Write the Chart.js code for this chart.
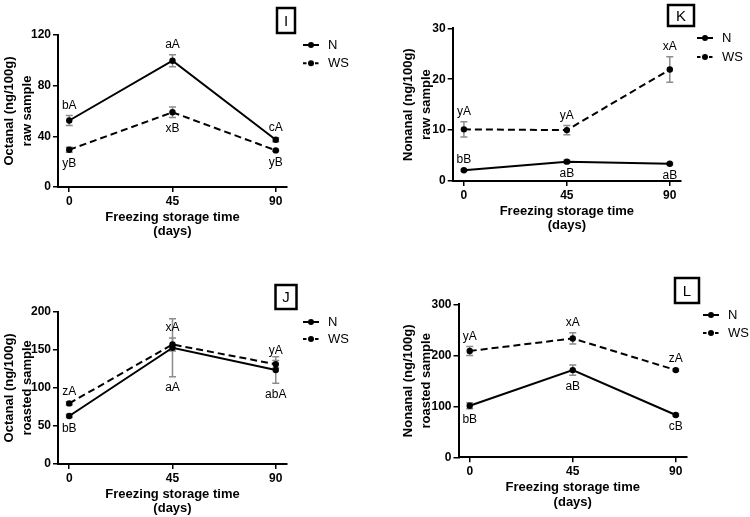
<!DOCTYPE html>
<html>
<head>
<meta charset="utf-8">
<script src="https://cdn.jsdelivr.net/npm/chart.js"></script>
<style>
  body { margin: 0; background: #fff; }
  #wrap { position: relative; width: 750px; height: 517px; }
  canvas { position: absolute; }
</style>
</head>
<body>
<div id="wrap">
  <canvas id="cI" width="375" height="260" style="left:0;top:0"></canvas>
  <canvas id="cK" width="375" height="260" style="left:375px;top:0"></canvas>
  <canvas id="cJ" width="375" height="257" style="left:0;top:260px"></canvas>
  <canvas id="cL" width="375" height="257" style="left:375px;top:260px"></canvas>
</div>
<script>
const days = [0, 45, 90];

// I - octanal, raw
const octRawN = [52.5, 99.7, 37.3];
const octRawNErr = [3.9, 4.8, 1.5];
const octRawWS = [29.4, 59.0, 28.9];
const octRawWSErr = [2.0, 4.2, 0.7];
const octRawNLetters = ['bA', 'aA', 'cA'];
const octRawWSLetters = ['yB', 'xB', 'yB'];
const octRawTicks = [0, 40, 80, 120];

// K - nonanal, raw
const nonRawN = [2.1, 3.8, 3.4];
const nonRawNErr = [0.2, 0.3, 0.2];
const nonRawWS = [10.15, 10.0, 21.9];
const nonRawWSErr = [1.5, 0.9, 2.5];
const nonRawNLetters = ['bB', 'aB', 'aB'];
const nonRawWSLetters = ['yA', 'yA', 'xA'];
const nonRawTicks = [0, 10, 20, 30];

// J - octanal, roasted
const octRoastN = [63, 152.7, 123.5];
const octRoastNErr = [2, 38, 17.5];
const octRoastWS = [79.6, 157, 131];
const octRoastWSErr = [2, 8.5, 5];
const octRoastNLetters = ['bB', 'aA', 'abA'];
const octRoastWSLetters = ['zA', 'xA', 'yA'];
const octRoastTicks = [0, 50, 100, 150, 200];

// L - nonanal, roasted
const nonRoastN = [101, 171, 83];
const nonRoastNErr = [6, 10, 2];
const nonRoastWS = [208.5, 233, 171];
const nonRoastWSErr = [9, 11, 2];
const nonRoastNLetters = ['bB', 'aB', 'cB'];
const nonRoastWSLetters = ['yA', 'xA', 'zA'];
const nonRoastTicks = [0, 100, 200, 300];

const FONT = "'Liberation Sans', Arial, sans-serif";

// errorbars, letters, legend and panel letter
const extras = {
  id: 'extras',
  beforeDatasetsDraw(chart) {
    const ctx = chart.ctx, xs = chart.scales.x, ys = chart.scales.y;
    ctx.save();
    ctx.strokeStyle = '#8c8c8c';
    ctx.lineWidth = 1.5;
    chart.data.datasets.forEach(ds => {
      ds.data.forEach((pt, i) => {
        const e = ds.err[i];
        const x = xs.getPixelForValue(pt.x);
        const y1 = ys.getPixelForValue(pt.y + e);
        const y2 = ys.getPixelForValue(pt.y - e);
        ctx.beginPath();
        ctx.moveTo(x, y1); ctx.lineTo(x, y2);
        ctx.moveTo(x - 3.5, y1); ctx.lineTo(x + 3.5, y1);
        ctx.moveTo(x - 3.5, y2); ctx.lineTo(x + 3.5, y2);
        ctx.stroke();
      });
    });
    ctx.restore();
  },
  afterDatasetsDraw(chart, args, opts) {
    const ctx = chart.ctx, xs = chart.scales.x, ys = chart.scales.y;
    ctx.save();
    ctx.fillStyle = '#000';
    ctx.font = '12px ' + FONT;
    ctx.textAlign = 'center';
    ctx.textBaseline = 'middle';
    chart.data.datasets.forEach(ds => {
      ds.data.forEach((pt, i) => {
        const x = xs.getPixelForValue(pt.x);
        if (ds.sides[i] === 'up') {
          ctx.fillText(ds.letters[i], x, ys.getPixelForValue(pt.y + ds.err[i]) - 10);
        } else {
          ctx.fillText(ds.letters[i], x, ys.getPixelForValue(pt.y - ds.err[i]) + 11);
        }
      });
    });

    // legend
    const lg = opts.legend;
    chart.data.datasets.forEach((ds, i) => {
      const y = lg.y + i * lg.gap;
      ctx.strokeStyle = '#000';
      ctx.lineWidth = 2;
      ctx.setLineDash(ds.borderDash ? [3.5, 2.5] : []);
      ctx.beginPath();
      ctx.moveTo(lg.x, y); ctx.lineTo(lg.x + 16, y);
      ctx.stroke();
      ctx.setLineDash([]);
      ctx.beginPath();
      ctx.arc(lg.x + 8, y, 3, 0, Math.PI * 2);
      ctx.fill();
      ctx.font = '13px ' + FONT;
      ctx.textAlign = 'left';
      ctx.fillText(ds.label, lg.x + 25, y + 0.5);
    });

    // panel letter box
    const b = opts.box;
    ctx.lineWidth = 2.5;
    ctx.strokeRect(b.x, b.y, b.w, b.h);
    ctx.font = '15px ' + FONT;
    ctx.textAlign = 'center';
    ctx.fillText(b.text, b.x + b.w / 2, b.y + b.h / 2 + 1);
    ctx.restore();
  }
};

function makePanel(id, p) {
  const cv = document.getElementById(id);
  const W = cv.width, H = cv.height;
  const a = p.area;
  const xH = 52;
  const pts = arr => days.map((d, i) => ({ x: d, y: arr[i] }));
  new Chart(cv, {
    type: 'line',
    data: {
      datasets: [
        {
          label: 'N', data: pts(p.n), err: p.nErr, letters: p.nLetters, sides: p.nSides,
          borderColor: '#000', borderWidth: 2, pointRadius: 3.2, pointBackgroundColor: '#000',
          pointBorderWidth: 0, clip: false
        },
        {
          label: 'WS', data: pts(p.ws), err: p.wsErr, letters: p.wsLetters, sides: p.wsSides,
          borderColor: '#000', borderWidth: 2, borderDash: [7, 4], pointRadius: 3.2,
          pointBackgroundColor: '#000', pointBorderWidth: 0, clip: false
        }
      ]
    },
    options: {
      responsive: false,
      animation: false,
      devicePixelRatio: 1,
      layout: { padding: { left: p.titlePad, top: a.top, right: W - a.right, bottom: H - a.bottom - xH } },
      plugins: {
        legend: { display: false },
        tooltip: { enabled: false },
        extras: { legend: p.legend, box: p.box }
      },
      scales: {
        x: {
          type: 'linear', min: -4.9, max: 94.9,
          afterBuildTicks: s => { s.ticks = days.map(v => ({ value: v })); },
          afterFit: s => { s.height = xH; },
          grid: { drawOnChartArea: false, color: '#000', lineWidth: 1.5, tickLength: 5 },
          border: { display: true, color: '#000', width: 2 },
          ticks: { color: '#000', padding: 2, font: { family: FONT, size: 12, weight: 'bold' } },
          title: {
            display: true, text: ['Freezing storage time', '(days)'], color: '#000',
            padding: { top: 0, bottom: 0 },
            font: { family: FONT, size: 13, weight: 'bold', lineHeight: 1.12 }
          }
        },
        y: {
          type: 'linear', min: 0, max: p.yTicks[p.yTicks.length - 1],
          afterBuildTicks: s => { s.ticks = p.yTicks.map(v => ({ value: v })); },
          afterFit: s => { s.width = a.left - p.titlePad; },
          grid: { drawOnChartArea: false, color: '#000', lineWidth: 1.5, tickLength: 5 },
          border: { display: true, color: '#000', width: 2 },
          ticks: { color: '#000', padding: 2, font: { family: FONT, size: 12, weight: 'bold' } },
          title: {
            display: true, text: p.yTitle, color: '#000',
            padding: { top: 0, bottom: 0 },
            font: { family: FONT, size: 13, weight: 'bold', lineHeight: 1.42 }
          }
        }
      }
    },
    plugins: [extras]
  });
}

makePanel('cI', {
  n: octRawN, nErr: octRawNErr, nLetters: octRawNLetters, nSides: ['up', 'up', 'up'],
  ws: octRawWS, wsErr: octRawWSErr, wsLetters: octRawWSLetters, wsSides: ['down', 'down', 'down'],
  yTicks: octRawTicks, yTitle: ['Octanal (ng/100g)', 'raw sample'],
  area: { left: 58, top: 35, right: 287, bottom: 187 }, titlePad: 0,
  legend: { x: 303, y: 45, gap: 18.3 }, box: { x: 277, y: 8, w: 18, h: 25, text: 'I' }
});

makePanel('cK', {
  n: nonRawN, nErr: nonRawNErr, nLetters: nonRawNLetters, nSides: ['up', 'down', 'down'],
  ws: nonRawWS, wsErr: nonRawWSErr, wsLetters: nonRawWSLetters, wsSides: ['up', 'up', 'up'],
  yTicks: nonRawTicks, yTitle: ['Nonanal (ng/100g)', 'raw sample'],
  area: { left: 77.7, top: 28.3, right: 306, bottom: 181 }, titlePad: 24,
  legend: { x: 322, y: 38, gap: 19 }, box: { x: 293, y: 5, w: 26, h: 21, text: 'K' }
});

makePanel('cJ', {
  n: octRoastN, nErr: octRoastNErr, nLetters: octRoastNLetters, nSides: ['down', 'down', 'down'],
  ws: octRoastWS, wsErr: octRoastWSErr, wsLetters: octRoastWSLetters, wsSides: ['up', 'up', 'up'],
  yTicks: octRoastTicks, yTitle: ['Octanal (ng/100g)', 'roasted sample'],
  area: { left: 58, top: 51.7, right: 287, bottom: 204 }, titlePad: 0,
  legend: { x: 303, y: 62, gap: 17 }, box: { x: 275.5, y: 25, w: 21, h: 24, text: 'J' }
});

makePanel('cL', {
  n: nonRoastN, nErr: nonRoastNErr, nLetters: nonRoastNLetters, nSides: ['down', 'down', 'down'],
  ws: nonRoastWS, wsErr: nonRoastWSErr, wsLetters: nonRoastWSLetters, wsSides: ['up', 'up', 'up'],
  yTicks: nonRoastTicks, yTitle: ['Nonanal (ng/100g)', 'roasted sample'],
  area: { left: 83.5, top: 44.3, right: 312, bottom: 197.3 }, titlePad: 24,
  legend: { x: 328, y: 55, gap: 18 }, box: { x: 300, y: 18, w: 24, h: 25, text: 'L' }
});
</script>
</body>
</html>
